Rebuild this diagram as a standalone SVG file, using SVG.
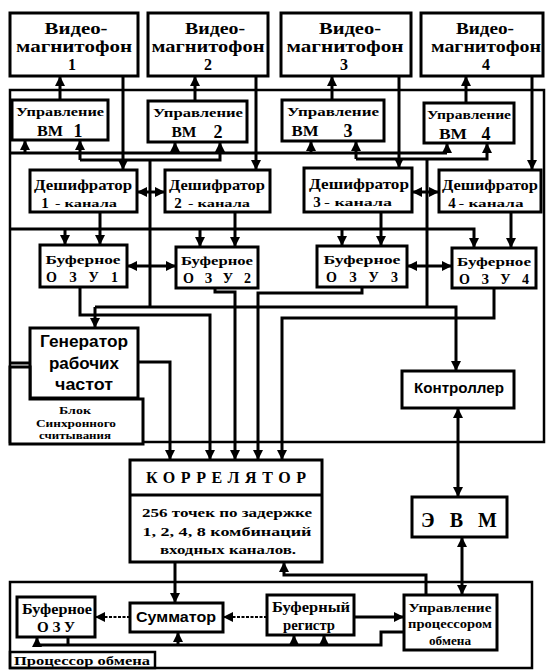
<svg xmlns="http://www.w3.org/2000/svg" width="548" height="671" viewBox="0 0 548 671">
<style>
.b{fill:#fff;stroke:#000;stroke-width:3}
.f{fill:none;stroke:#000;stroke-width:2.5}
.l{fill:none;stroke:#000;stroke-width:3}
.d{fill:none;stroke:#000;stroke-width:2;stroke-dasharray:3 1.5}
.t{font-family:"Liberation Serif",serif;font-weight:bold;text-anchor:middle;fill:#000}
.s{font-family:"Liberation Sans",sans-serif;font-weight:bold;text-anchor:middle;fill:#000}
</style>
<defs>
<marker id="a" markerUnits="userSpaceOnUse" markerWidth="10" markerHeight="10" refX="9" refY="5" orient="auto-start-reverse"><path d="M0,0 L10,5 L0,10 z" fill="#000"/></marker>
</defs>
<rect width="548" height="671" fill="#fff"/>

<g id="frames">
<rect class="f" x="10" y="90" width="534" height="352"/>
<rect class="f" x="10" y="582" width="522" height="86"/>
</g>

<g id="connectors">
<path class="l" marker-end="url(#a)" d="M60,100 V77"/>
<path class="l" marker-end="url(#a)" d="M195,101 V77"/>
<path class="l" marker-end="url(#a)" d="M332,100 V77"/>
<path class="l" marker-end="url(#a)" d="M466,103 V77"/>
<path class="l" marker-end="url(#a)" d="M123,76 V169"/>
<path class="l" marker-end="url(#a)" d="M256,76 V169"/>
<path class="l" marker-end="url(#a)" d="M399,76 V167"/>
<path class="l" marker-end="url(#a)" d="M532,76 V169"/>
<path class="l" d="M10,363 H30"/>
<path class="l" d="M10,153 H447"/>
<path class="l" marker-end="url(#a)" d="M25,153 V141"/>
<path class="l" marker-end="url(#a)" d="M175,153 V143"/>
<path class="l" marker-end="url(#a)" d="M311,153 V142"/>
<path class="l" marker-end="url(#a)" d="M447,153 V144"/>
<path class="l" marker-end="url(#a)" d="M80,160 H220 V143"/>
<path class="l" marker-end="url(#a)" d="M80,160 V141"/>
<path class="l" marker-end="url(#a)" d="M356,159 H487 V144"/>
<path class="l" marker-end="url(#a)" d="M356,159 V142"/>
<path class="l" d="M150,160 V307"/>
<path class="l" d="M427,159 V307"/>
<path class="l" marker-start="url(#a)" marker-end="url(#a)" d="M138,192 H164"/>
<path class="l" marker-start="url(#a)" marker-end="url(#a)" d="M413,192 H438"/>
<path class="l" marker-start="url(#a)" marker-end="url(#a)" d="M128,266 H175"/>
<path class="l" marker-start="url(#a)" marker-end="url(#a)" d="M408,266 H451"/>
<path class="l" marker-end="url(#a)" d="M10,229 H474 V247"/>
<path class="l" marker-end="url(#a)" d="M65,229 V244"/>
<path class="l" marker-end="url(#a)" d="M200,229 V246"/>
<path class="l" marker-end="url(#a)" d="M342,229 V245"/>
<path class="l" marker-end="url(#a)" d="M100,212 V244"/>
<path class="l" marker-end="url(#a)" d="M235,212 V246"/>
<path class="l" marker-end="url(#a)" d="M381,212 V245"/>
<path class="l" marker-end="url(#a)" d="M511,212 V247"/>
<path class="l" marker-end="url(#a)" d="M95,307 H456 V370"/>
<path class="l" marker-end="url(#a)" d="M95,307 V327"/>
<path class="l" marker-end="url(#a)" d="M80,287 V315 H210 V459"/>
<path class="l" marker-end="url(#a)" d="M215,288 V292 H235 V459"/>
<path class="l" marker-end="url(#a)" d="M362,287 V293 H258 V459"/>
<path class="l" marker-end="url(#a)" d="M494,288 V318 H282 V459"/>
<path class="l" marker-end="url(#a)" d="M138,362 H170 V459"/>
<path class="l" marker-start="url(#a)" marker-end="url(#a)" d="M458,409 V496"/>
<path class="l" marker-start="url(#a)" marker-end="url(#a)" d="M462,538 V594"/>
<path class="l" marker-end="url(#a)" d="M175,563 V602"/>
<path class="l" marker-end="url(#a)" d="M426,595 V575 H284 V563"/>
<path class="d" marker-end="url(#a)" d="M130,617 H96"/>
<path class="d" marker-end="url(#a)" d="M267,617 H224"/>
<path class="l" marker-end="url(#a)" d="M354,617 H403"/>
<path class="l" d="M37,645 H381 V632 H404"/>
<path class="l" d="M68,637 V645"/>
<path class="l" marker-end="url(#a)" d="M37,645 V638"/>
<path class="l" marker-end="url(#a)" d="M178,645 V633"/>
<path class="l" marker-end="url(#a)" d="M294,645 V636"/>
<path class="l" marker-end="url(#a)" d="M324,645 V636"/>
</g>

<g id="vcr1"><rect class="b" x="10" y="13" width="128" height="63"/>
<text class="t" x="76" y="34" font-size="16" textLength="63" lengthAdjust="spacingAndGlyphs">Видео-</text>
<text class="t" x="74" y="52" font-size="16" textLength="116" lengthAdjust="spacingAndGlyphs">магнитофон</text>
<text class="t" x="72" y="70" font-size="16">1</text></g>
<g id="vcr2"><rect class="b" x="148" y="13" width="120" height="63"/>
<text class="t" x="215" y="34" font-size="16" textLength="60" lengthAdjust="spacingAndGlyphs">Видео-</text>
<text class="t" x="208" y="52" font-size="16" textLength="113" lengthAdjust="spacingAndGlyphs">магнитофон</text>
<text class="t" x="208" y="70" font-size="16">2</text></g>
<g id="vcr3"><rect class="b" x="281" y="13" width="130" height="63"/>
<text class="t" x="350" y="34" font-size="16" textLength="62" lengthAdjust="spacingAndGlyphs">Видео-</text>
<text class="t" x="345" y="52" font-size="16" textLength="117" lengthAdjust="spacingAndGlyphs">магнитофон</text>
<text class="t" x="344" y="70" font-size="16">3</text></g>
<g id="vcr4"><rect class="b" x="421" y="13" width="122" height="63"/>
<text class="t" x="485" y="34" font-size="16" textLength="58" lengthAdjust="spacingAndGlyphs">Видео-</text>
<text class="t" x="486" y="52" font-size="16" textLength="110" lengthAdjust="spacingAndGlyphs">магнитофон</text>
<text class="t" x="486" y="70" font-size="16">4</text></g>

<g id="upr1"><rect class="b" x="12" y="100" width="96" height="40"/>
<text class="t" x="60" y="116" font-size="13" textLength="88" lengthAdjust="spacingAndGlyphs">Управление</text>
<text class="t" x="50" y="136" font-size="14" textLength="26" lengthAdjust="spacingAndGlyphs">ВМ</text>
<text class="t" x="78" y="137" font-size="18">1</text></g>
<g id="upr2"><rect class="b" x="148" y="101" width="99" height="41"/>
<text class="t" x="198" y="117" font-size="13" textLength="90" lengthAdjust="spacingAndGlyphs">Управление</text>
<text class="t" x="184" y="137" font-size="14" textLength="25" lengthAdjust="spacingAndGlyphs">ВМ</text>
<text class="t" x="218" y="138" font-size="18">2</text></g>
<g id="upr3"><rect class="b" x="282" y="100" width="102" height="41"/>
<text class="t" x="333" y="116" font-size="13" textLength="92" lengthAdjust="spacingAndGlyphs">Управление</text>
<text class="t" x="305" y="136" font-size="14" textLength="27" lengthAdjust="spacingAndGlyphs">ВМ</text>
<text class="t" x="348" y="137" font-size="18">3</text></g>
<g id="upr4"><rect class="b" x="424" y="103" width="90" height="40"/>
<text class="t" x="469" y="119" font-size="13" textLength="84" lengthAdjust="spacingAndGlyphs">Управление</text>
<text class="t" x="453" y="139" font-size="14" textLength="28" lengthAdjust="spacingAndGlyphs">ВМ</text>
<text class="t" x="486" y="140" font-size="18">4</text></g>

<g id="dec1"><rect class="b" x="30" y="170" width="107" height="42"/>
<text class="t" x="83" y="190" font-size="15" textLength="98" lengthAdjust="spacingAndGlyphs">Дешифратор</text>
<text class="t" x="45" y="208" font-size="15">1</text>
<text class="t" x="86" y="207" font-size="11" textLength="62" lengthAdjust="spacingAndGlyphs">- канала</text></g>
<g id="dec2"><rect class="b" x="165" y="170" width="105" height="42"/>
<text class="t" x="217" y="190" font-size="15" textLength="96" lengthAdjust="spacingAndGlyphs">Дешифратор</text>
<text class="t" x="178" y="208" font-size="15">2</text>
<text class="t" x="219" y="207" font-size="11" textLength="62" lengthAdjust="spacingAndGlyphs">- канала</text></g>
<g id="dec3"><rect class="b" x="304" y="168" width="108" height="44"/>
<text class="t" x="359" y="189" font-size="15" textLength="100" lengthAdjust="spacingAndGlyphs">Дешифратор</text>
<text class="t" x="317" y="207" font-size="15">3</text>
<text class="t" x="358" y="206" font-size="11" textLength="68" lengthAdjust="spacingAndGlyphs">- канала</text></g>
<g id="dec4"><rect class="b" x="439" y="170" width="102" height="42"/>
<text class="t" x="490" y="190" font-size="15" textLength="96" lengthAdjust="spacingAndGlyphs">Дешифратор</text>
<text class="t" x="452" y="208" font-size="15">4</text>
<text class="t" x="491" y="207" font-size="11" textLength="65" lengthAdjust="spacingAndGlyphs">- канала</text></g>

<g id="buf1"><rect class="b" x="40" y="245" width="87" height="42"/>
<text class="t" x="83" y="264" font-size="13" textLength="75" lengthAdjust="spacingAndGlyphs">Буферное</text>
<text class="t" x="82" y="282" font-size="14" textLength="72" lengthAdjust="spacing">ОЗУ1</text></g>
<g id="buf2"><rect class="b" x="176" y="247" width="82" height="41"/>
<text class="t" x="217" y="265" font-size="13" textLength="72" lengthAdjust="spacingAndGlyphs">Буферное</text>
<text class="t" x="217" y="283" font-size="14" textLength="68" lengthAdjust="spacing">ОЗУ2</text></g>
<g id="buf3"><rect class="b" x="317" y="246" width="90" height="41"/>
<text class="t" x="362" y="264" font-size="13" textLength="77" lengthAdjust="spacingAndGlyphs">Буферное</text>
<text class="t" x="362" y="282" font-size="14" textLength="72" lengthAdjust="spacing">ОЗУ3</text></g>
<g id="buf4"><rect class="b" x="452" y="248" width="84" height="40"/>
<text class="t" x="494" y="266" font-size="13" textLength="74" lengthAdjust="spacingAndGlyphs">Буферное</text>
<text class="t" x="494" y="284" font-size="14" textLength="70" lengthAdjust="spacing">ОЗУ4</text></g>

<g id="gen"><rect class="b" x="30" y="328" width="108" height="70"/>
<text class="s" x="84" y="347" font-size="17" textLength="88" lengthAdjust="spacingAndGlyphs">Генератор</text>
<text class="s" x="84" y="369" font-size="17" textLength="70" lengthAdjust="spacingAndGlyphs">рабочих</text>
<text class="s" x="84" y="390" font-size="17" textLength="58" lengthAdjust="spacingAndGlyphs">частот</text></g>
<g id="sync"><path class="b" d="M10,367 H30 V399 H143 V444 H10 Z"/>
<text class="t" x="75" y="414" font-size="11" textLength="32" lengthAdjust="spacingAndGlyphs">Блок</text>
<text class="t" x="76" y="427" font-size="11" textLength="80" lengthAdjust="spacingAndGlyphs">Синхронного</text>
<text class="t" x="75" y="439" font-size="10" textLength="72" lengthAdjust="spacingAndGlyphs">считывания</text></g>

<g id="corr"><rect class="b" x="130" y="460" width="192" height="102"/>
<path class="l" d="M130,495 H322"/>
<text class="t" x="226" y="483" font-size="16" textLength="160" lengthAdjust="spacing">КОРРЕЛЯТОР</text>
<text class="t" x="227" y="517" font-size="13" textLength="170" lengthAdjust="spacingAndGlyphs">256 точек по задержке</text>
<text class="t" x="227" y="536" font-size="13" textLength="169" lengthAdjust="spacingAndGlyphs">1, 2, 4, 8 комбинаций</text>
<text class="t" x="228" y="554" font-size="12" textLength="136" lengthAdjust="spacingAndGlyphs">входных каналов.</text></g>

<g id="ctrl"><rect class="b" x="402" y="371" width="112" height="37"/>
<text class="s" x="459" y="393" font-size="14" textLength="90" lengthAdjust="spacingAndGlyphs">Контроллер</text></g>
<g id="evm"><rect class="b" x="412" y="497" width="95" height="40"/>
<text class="t" x="459" y="527" font-size="20" textLength="76" lengthAdjust="spacing">ЭВМ</text></g>

<g id="bozu"><rect class="b" x="17" y="597" width="78" height="40"/>
<text class="t" x="57" y="614" font-size="14" textLength="70" lengthAdjust="spacingAndGlyphs">Буферное</text>
<text class="t" x="56" y="632" font-size="15" textLength="38" lengthAdjust="spacing">ОЗУ</text></g>
<g id="sum"><rect class="b" x="130" y="603" width="93" height="29"/>
<text class="s" x="176" y="622" font-size="14" textLength="80" lengthAdjust="spacingAndGlyphs">Сумматор</text></g>
<g id="breg"><rect class="b" x="267" y="595" width="87" height="40"/>
<text class="t" x="311" y="612" font-size="14" textLength="78" lengthAdjust="spacingAndGlyphs">Буферный</text>
<text class="t" x="309" y="630" font-size="14" textLength="52" lengthAdjust="spacingAndGlyphs">регистр</text></g>
<g id="upo"><rect class="b" x="404" y="595" width="93" height="55"/>
<text class="t" x="450" y="612" font-size="13" textLength="83" lengthAdjust="spacingAndGlyphs">Управление</text>
<text class="t" x="450" y="628" font-size="13" textLength="84" lengthAdjust="spacingAndGlyphs">процессором</text>
<text class="t" x="450" y="645" font-size="13" textLength="42" lengthAdjust="spacingAndGlyphs">обмена</text></g>
<g id="proc"><rect class="f" x="10" y="652" width="145" height="16"/>
<text class="t" x="82" y="665" font-size="13" textLength="136" lengthAdjust="spacingAndGlyphs">Процессор обмена</text></g>
</svg>
